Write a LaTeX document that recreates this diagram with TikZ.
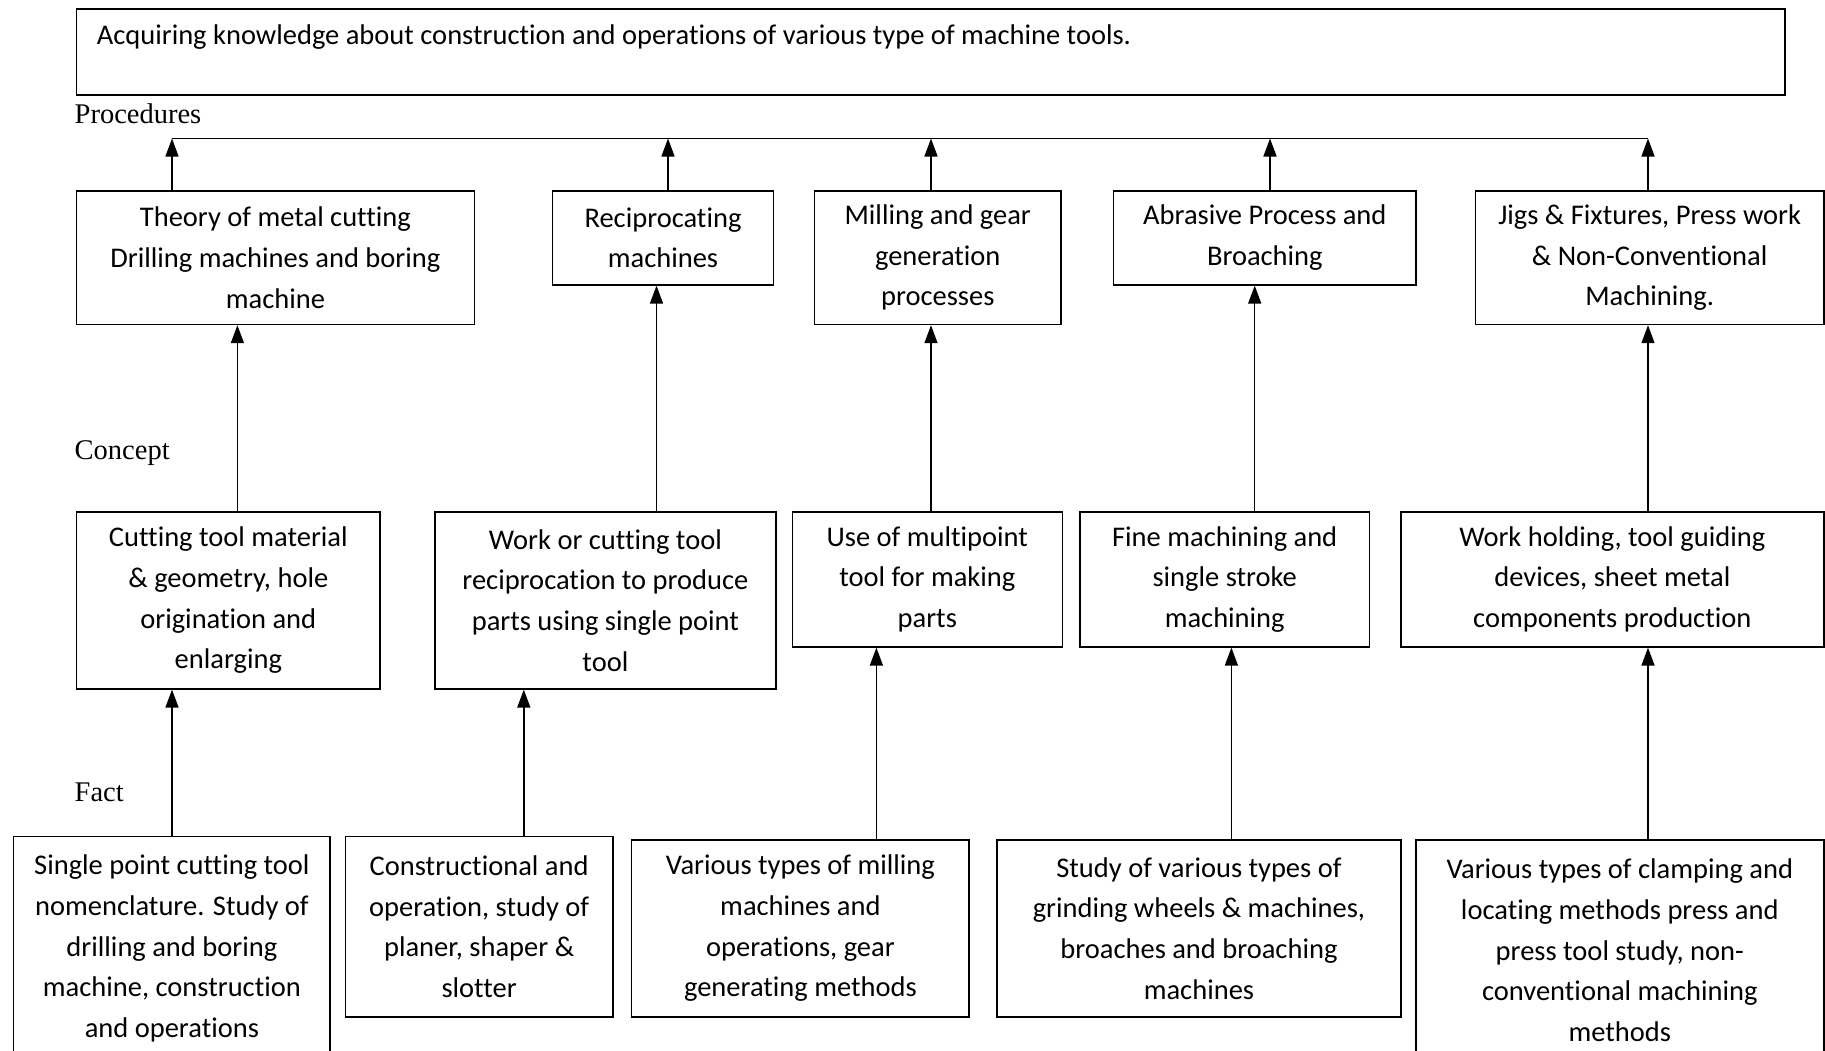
\documentclass[tikz,border=0pt]{standalone}
\usepackage{fontspec}
\setmainfont{Liberation Serif}
\newfontfamily\calib[Ligatures={NoCommon}, RawFeature={-liga;-clig;-calt;-dlig}]{Carlito}
\usetikzlibrary{arrows.meta}
\tikzset{
  box/.style={draw, line width=1.6pt, anchor=north west, inner sep=0pt, align=center,
    font=\calib\fontsize{28.5}{40.7}\selectfont},
  lbl/.style={anchor=west, inner sep=0pt, font=\fontsize{28.5}{34}\selectfont},
  arr/.style={line width=1.5pt, -{Triangle[length=18pt,width=13pt]}},
  bus/.style={line width=1.5pt},
}
\begin{document}
\begin{tikzpicture}[x=1pt,y=-1pt]
\fill[white] (0,0) rectangle (1825,1050);
\useasboundingbox (0,0) rectangle (1825,1050);

% goal
\node[draw, line width=1.6pt, anchor=north west, inner sep=0pt, minimum width=1708.5pt, minimum height=86pt] (goal) at (75.5,8) {};
\node[anchor=west, inner sep=0pt, font=\calib\fontsize{28.5}{34}\selectfont] (goaltext) at (96.6,37) {Acquiring knowledge about construction and operations of various type of machine tools.};

% level labels
\node[lbl] (proc) at (74.5,114) {Procedures};
\node[lbl] (conc) at (74.5,452.8) {Concept};
\node[lbl] (fact) at (74.5,792.6) {Fact};

% row 1
\node[box, minimum width=398pt, minimum height=133.6pt] (b1) at (75.6,190) {Theory of metal cutting\\Drilling machines and boring\\machine};
\node[box, minimum width=221pt, minimum height=94pt] (b2) at (551.7,190) {Reciprocating\\machines};
\node[box, minimum width=246.7pt, minimum height=133.6pt] (b3) at (813.6,190) {Milling and gear\\generation\\processes};
\node[box, minimum width=302.6pt, minimum height=94pt] (b4) at (1112.7,190) {Abrasive Process and\\Broaching};
\node[box, minimum width=348.3pt, minimum height=133.6pt] (b5) at (1474.7,190) {Jigs \& Fixtures, Press work\\\& Non-Conventional\\Machining.};

% row 2
\node[box, minimum width=303.8pt, minimum height=177pt] (c1) at (75.6,511) {Cutting tool material\\\& geometry, hole\\origination and\\enlarging};
\node[box, minimum width=341.2pt, minimum height=177pt] (c2) at (434,511) {Work or cutting tool\\reciprocation to produce\\parts using single point\\tool};
\node[box, minimum width=270pt, minimum height=135pt] (c3) at (791.5,511) {Use of multipoint\\tool for making\\parts};
\node[box, minimum width=289.8pt, minimum height=135pt] (c4) at (1079,511) {Fine machining and\\single stroke\\machining};
\node[box, minimum width=423pt, minimum height=135pt] (c5) at (1400,511) {Work holding, tool guiding\\devices, sheet metal\\components production};

% row 3
\node[box, minimum width=316.6pt, minimum height=224pt] (d1) at (12.8,835.7) {Single point cutting tool\\nomenclature. Study of\\drilling and boring\\machine, construction\\and operations};
\node[box, minimum width=267.7pt, minimum height=180.3pt] (d2) at (344.5,835.7) {Constructional and\\operation, study of\\planer, shaper \&\\slotter};
\node[box, minimum width=337.6pt, minimum height=177pt] (d3) at (630.8,839) {Various types of milling\\machines and\\operations, gear\\generating methods};
\node[box, minimum width=403.7pt, minimum height=177pt] (d4) at (996.3,839) {Study of various types of\\grinding wheels \& machines,\\broaches and broaching\\machines};
\node[box, minimum width=408pt, minimum height=221pt] (d5) at (1415,839) {Various types of clamping and\\locating methods press and\\press tool study, non-\\conventional machining\\methods};

% bus coordinates
\coordinate (p1) at (172,138.5);
\coordinate (p2) at (668,138.5);
\coordinate (p3) at (931,138.5);
\coordinate (p4) at (1270,138.5);
\coordinate (p5) at (1648,138.5);
\draw[bus] (p1) -- (p5);
\foreach \i in {1,...,5} { \draw[arr] (b\i.north -| p\i) -- (p\i); }

% concept -> procedure
\coordinate (q1) at (237.4,0);
\coordinate (q2) at (656.5,0);
\coordinate (q3) at (931,0);
\coordinate (q4) at (1254.7,0);
\coordinate (q5) at (1648,0);
\foreach \i in {1,...,5} { \draw[arr] (c\i.north -| q\i) -- (b\i.south -| q\i); }

% fact -> concept
\coordinate (r1) at (172,0);
\coordinate (r2) at (523.8,0);
\coordinate (r3) at (876.4,0);
\coordinate (r4) at (1231.4,0);
\coordinate (r5) at (1648,0);
\foreach \i in {1,...,5} { \draw[arr] (d\i.north -| r\i) -- (c\i.south -| r\i); }
\end{tikzpicture}
\end{document}
